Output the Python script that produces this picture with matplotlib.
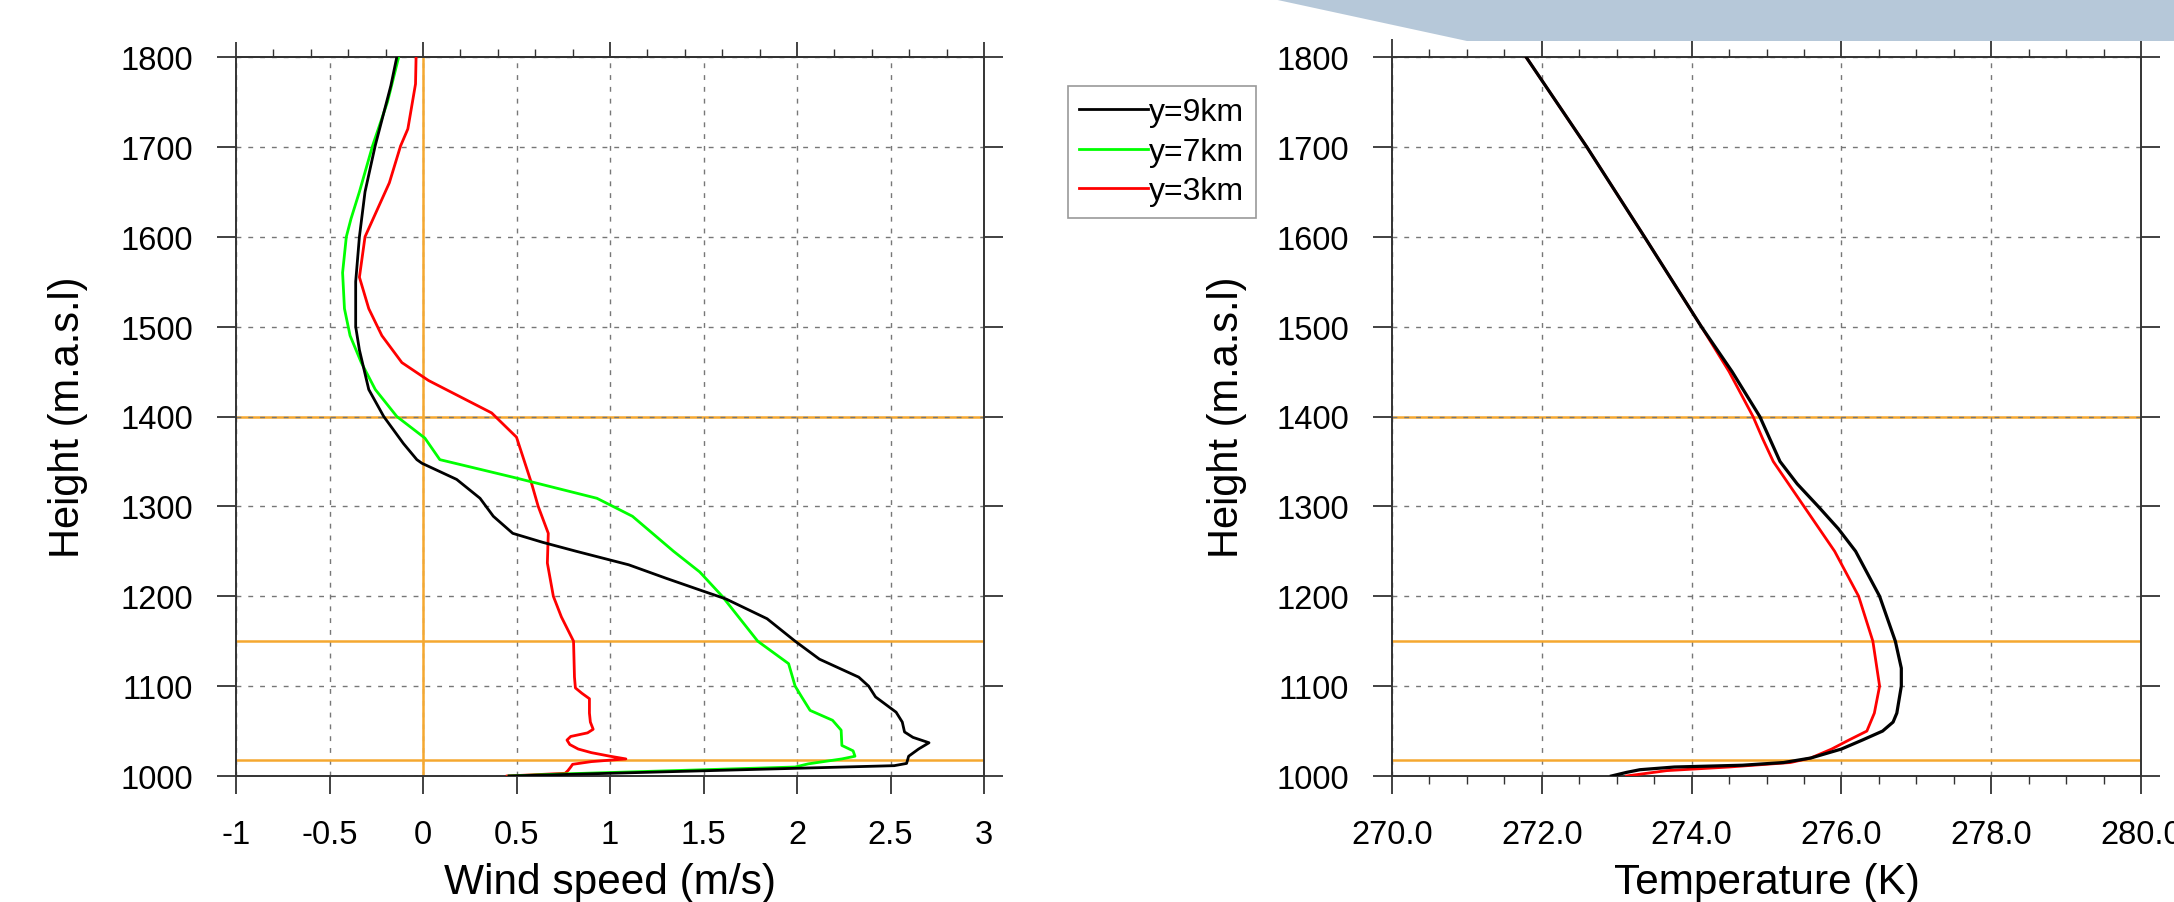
import matplotlib
matplotlib.use("Agg")
import matplotlib.pyplot as plt
from matplotlib.patches import Polygon
from matplotlib.ticker import MultipleLocator

plt.rcParams['font.family'] = ['Liberation Sans', 'DejaVu Sans']
plt.rcParams['axes.unicode_minus'] = False

# ---- wind speed profiles (m/s) vs height (m a.s.l) ----
wind9_h = [1000, 1011.5, 1014, 1022, 1030, 1037, 1043, 1049, 1060, 1071, 1088, 1100, 1110, 1130,
           1150, 1175, 1197, 1207, 1220, 1235, 1250, 1260, 1270, 1289, 1309, 1330, 1348, 1352,
           1370, 1400, 1430, 1474, 1500, 1550, 1600, 1650, 1701, 1768, 1800]
wind9 = [0.46, 2.52, 2.586, 2.597, 2.65, 2.706, 2.62, 2.575, 2.563, 2.53, 2.42, 2.383, 2.33, 2.12,
         1.99, 1.84, 1.62, 1.48, 1.30, 1.10, 0.82, 0.64, 0.48, 0.376, 0.305, 0.18, -0.006, -0.033,
         -0.105, -0.21, -0.29, -0.34, -0.36, -0.36, -0.34, -0.31, -0.256, -0.172, -0.14]

wind7_h = [1000, 1002.5, 1010, 1013.5, 1019, 1022, 1028, 1034, 1051, 1062, 1073, 1088, 1100, 1125,
           1150, 1200, 1227, 1250, 1289, 1309, 1332, 1352, 1376, 1400, 1430, 1460, 1490, 1520,
           1560, 1600, 1620, 1650, 1701, 1750, 1800]
wind7 = [0.46, 0.78, 1.99, 2.06, 2.24, 2.31, 2.30, 2.24, 2.236, 2.19, 2.07, 2.025, 1.99, 1.955,
         1.79, 1.60, 1.48, 1.34, 1.12, 0.93, 0.49, 0.09, 0.01, -0.14, -0.255, -0.33, -0.39, -0.42,
         -0.43, -0.41, -0.385, -0.34, -0.27, -0.19, -0.13]

wind3_h = [1000, 1003, 1006, 1010, 1013, 1016, 1019, 1022, 1026, 1030, 1035, 1040, 1044, 1048,
           1052, 1060, 1070, 1086, 1092, 1098, 1110, 1150, 1177, 1200, 1237, 1270, 1300, 1326,
           1377, 1404, 1440, 1460, 1490, 1520, 1555, 1600, 1660, 1701, 1720, 1770, 1800]
wind3 = [0.45, 0.76, 0.775, 0.79, 0.80, 0.90, 1.085, 1.00, 0.90, 0.83, 0.785, 0.77, 0.79, 0.88,
         0.91, 0.895, 0.89, 0.89, 0.85, 0.815, 0.81, 0.805, 0.74, 0.697, 0.665, 0.67, 0.616, 0.58,
         0.50, 0.367, 0.03, -0.113, -0.22, -0.29, -0.34, -0.31, -0.18, -0.12, -0.081, -0.04, -0.037]

# ---- temperature profiles (K) vs height ----
temp9_h = [1000, 1004, 1007, 1010, 1012, 1015, 1020, 1030, 1040, 1050, 1060, 1070, 1100, 1120,
           1150, 1200, 1250, 1275, 1300, 1325, 1350, 1400, 1450, 1500, 1600, 1700, 1800]
temp9 = [272.93, 273.13, 273.31, 273.77, 274.68, 275.23, 275.59, 276.0, 276.28, 276.55, 276.69,
         276.74, 276.80, 276.80, 276.72, 276.51, 276.19, 275.96, 275.69, 275.41, 275.18, 274.91,
         274.54, 274.13, 273.37, 272.60, 271.79]

temp3_h = [1000, 1003, 1006, 1010, 1015, 1020, 1030, 1040, 1050, 1070, 1100, 1150, 1200, 1250,
           1300, 1350, 1375, 1400, 1450, 1500, 1600, 1700, 1800]
temp3 = [273.13, 273.4, 273.67, 274.5, 275.32, 275.59, 275.87, 276.10, 276.34, 276.44, 276.51,
         276.42, 276.23, 275.91, 275.50, 275.09, 274.95, 274.82, 274.50, 274.13, 273.37, 272.60,
         271.79]

ref_heights = [1400, 1150, 1018]

series_labels = ['y=9km', 'y=7km', 'y=3km']
series_colors = ['black', '#00ff00', 'red']

height_ticks = [1000, 1100, 1200, 1300, 1400, 1500, 1600, 1700, 1800]
wind_ticks = [-1, -0.5, 0, 0.5, 1, 1.5, 2, 2.5, 3]
wind_tick_labels = ['-1', '-0.5', '0', '0.5', '1', '1.5', '2', '2.5', '3']
temp_ticks = [270, 272, 274, 276, 278, 280]
temp_tick_labels = ['270.0', '272.0', '274.0', '276.0', '278.0', '280.0']

W, H = 2174, 903
ORANGE = '#f5a830'
SPINE = '#333333'


def styleAxes(ax):
    for s in ax.spines.values():
        s.set_color(SPINE)
        s.set_linewidth(1.4)
    ax.set_ylim(1000, 1800)
    ax.set_yticks(height_ticks)
    ax.set_yticklabels([str(h) for h in height_ticks])
    ax.tick_params(axis='y', which='major', direction='out', left=True, right=True,
                   length=14, width=1.3, color=SPINE, labelsize=23.5, pad=17)
    ax.tick_params(axis='x', which='major', direction='out', length=12.7, width=1.3,
                   color=SPINE, labelsize=23.5, pad=18)
    ax.tick_params(axis='x', which='minor', direction='out', length=6, width=1.0, color=SPINE)
    ax.set_axisbelow(True)
    ax.grid(True, which='major', color='#777777', linestyle=(0, (3.5, 5)), linewidth=1.0)
    for i, h in enumerate(ref_heights):
        # the 1400 line sits under the grid, the others above it
        ax.axhline(h, color=ORANGE, lw=1.8, zorder=0.4 if i == 0 else 1.2)
    ax.set_ylabel('Height (m.a.s.l)', fontsize=30)


fig = plt.figure(figsize=(W / 100, H / 100), dpi=100)
axW = fig.add_axes([236 / W, 1 - 777 / H, 748 / W, 719 / H])
axT = fig.add_axes([1392 / W, 1 - 777 / H, 749 / W, 719 / H])

# ---- left: wind speed ----
styleAxes(axW)
axW.set_xlim(-1, 3)
axW.set_xticks(wind_ticks)
axW.set_xticklabels(wind_tick_labels)
axW.tick_params(axis='x', top=False)
axW.axvline(0, color=ORANGE, lw=1.8, zorder=1.2)
lines = []
for hs, vs, lab, col in [(wind3_h, wind3, series_labels[2], series_colors[2]),
                         (wind7_h, wind7, series_labels[1], series_colors[1]),
                         (wind9_h, wind9, series_labels[0], series_colors[0])]:
    ln, = axW.plot(vs, hs, color=col, lw=2.0, label=lab, zorder=3)
    lines.append(ln)
axW.set_xlabel('Wind speed (m/s)', fontsize=30.5)
axW.xaxis.set_label_coords(0.5, -0.12)
axW.yaxis.set_label_coords(-0.198, 0.5)

top = axW.secondary_xaxis('top')
top.set_xticks([-1, 0, 1, 2, 3])
top.xaxis.set_minor_locator(MultipleLocator(0.2))
top.tick_params(axis='x', which='major', direction='out', length=11, width=1.3,
                color=SPINE, labeltop=False)
top.tick_params(axis='x', which='minor', direction='out', length=6, width=1.0, color=SPINE)
top.spines['top'].set_color(SPINE)
top.spines['top'].set_linewidth(1.4)

# ---- right: temperature ----
styleAxes(axT)
axT.set_xlim(270, 280)
axT.set_xticks(temp_ticks)
axT.set_xticklabels(temp_tick_labels)
axT.xaxis.set_minor_locator(MultipleLocator(0.5))
axT.tick_params(axis='x', which='both', top=True)
axT.plot(temp3, temp3_h, color='red', lw=2.0, zorder=3)
axT.plot(temp9, temp9_h, color='black', lw=2.3, zorder=3)
axT.set_xlabel('Temperature (K)', fontsize=30.5)
axT.xaxis.set_label_coords(0.5, -0.12)
axT.yaxis.set_label_coords(-0.1936, 0.5)

# legend between the panels
handles = [lines[2], lines[1], lines[0]]
leg = axW.legend(handles, series_labels, loc='upper left',
                 bbox_to_anchor=(1068 / W, 1 - 87 / H), bbox_transform=fig.transFigure,
                 fontsize=23, handlelength=2.15, handletextpad=0.05, labelspacing=0.3,
                 borderpad=0.35, borderaxespad=0, fancybox=False, framealpha=1)
leg.get_frame().set_edgecolor('#999999')
leg.get_frame().set_linewidth(1.2)

# slide background shape at the top
shape = Polygon([(1273 / W, 1.0), (1467 / W, 1 - 42 / H), (1.0, 1 - 42 / H), (1.0, 1.0)],
                closed=True, transform=fig.transFigure, facecolor='#b6c8d9',
                edgecolor='none', zorder=10)
fig.add_artist(shape)

fig.savefig('out.png', dpi=100)
